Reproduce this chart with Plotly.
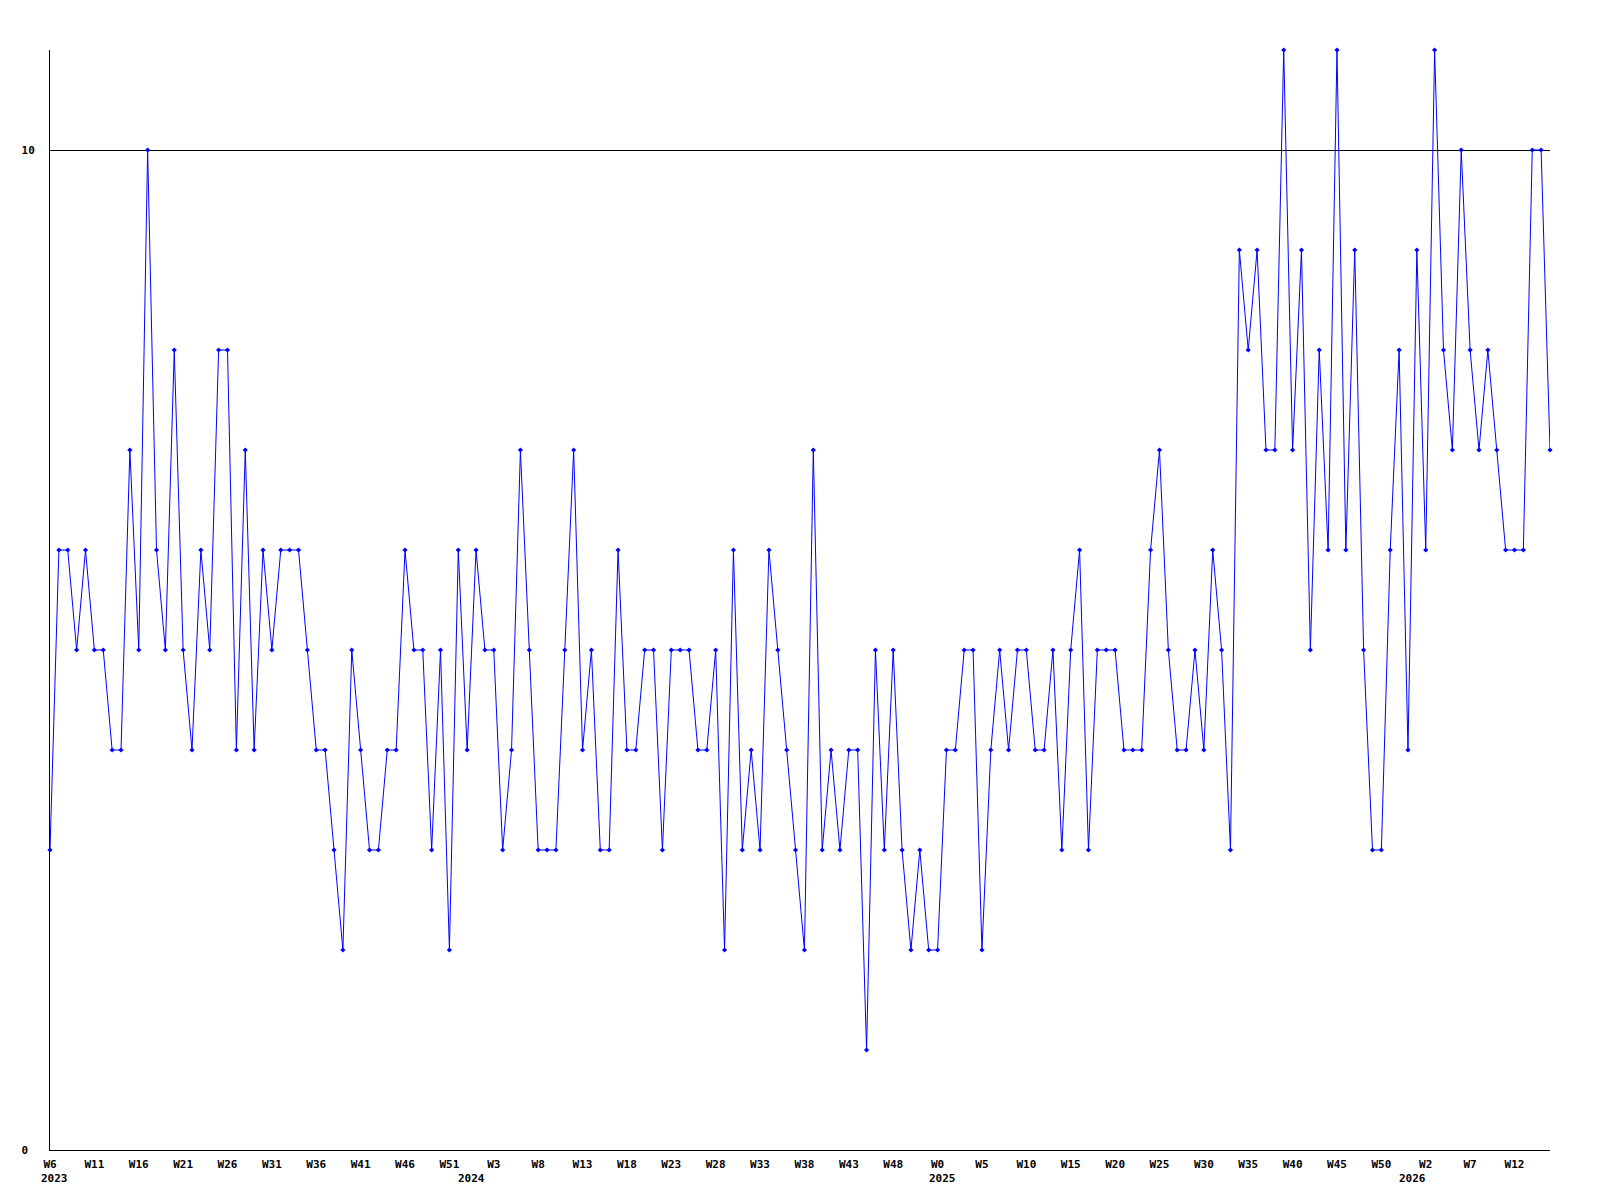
import plotly.graph_objects as go

# Weekly values, first point = W6 2023 (index 0)
values = [
    3, 6, 6, 5, 6, 5, 5, 4, 4, 7, 5, 10, 6, 5, 8, 5, 4, 6, 5, 8, 8, 4,
    7, 4, 6, 5, 6, 6, 6, 5, 4, 4, 3, 2, 5, 4, 3, 3, 4, 4, 6, 5, 5,
    3, 5, 2, 6, 4, 6, 5, 5, 3, 4, 7, 5, 3, 3, 3, 5, 7, 4, 5, 3, 3, 6,
    4, 4, 5, 5, 3, 5, 5, 5, 4, 4, 5, 2, 6, 3, 4, 3, 6, 5, 4, 3, 2,
    7, 3, 4, 3, 4, 4, 1, 5, 3, 5, 3, 2, 3, 2, 2, 4, 4, 5, 5, 2, 4, 5,
    4, 5, 5, 4, 4, 5, 3, 5, 6, 3, 5, 5, 5, 4, 4, 4, 6, 7, 5, 4, 4,
    5, 4, 6, 5, 3, 9, 8, 9, 7, 7, 11, 7, 9, 5, 8, 6, 11, 6, 9, 5, 3,
    3, 6, 8, 4, 9, 6, 11, 8, 7, 10, 8, 7, 8, 7, 6, 6, 6, 10, 10, 7,
]

week_labels = [
    "W6", "W11", "W16", "W21", "W26", "W31", "W36", "W41", "W46", "W51",
    "W3", "W8", "W13", "W18", "W23", "W28", "W33", "W38", "W43", "W48",
    "W0", "W5", "W10", "W15", "W20", "W25", "W30", "W35", "W40", "W45",
    "W50", "W2", "W7", "W12",
]
week_label_pos = [i * 5 for i in range(len(week_labels))]

years = ["2023", "2024", "2025", "2026"]
year_pos = [0, 47, 100, 153]

y_ticks = [0, 10]
y_tick_text = ["0\u00a0", "10"]

x_idx = list(range(len(values)))

FONT = "DejaVu Sans Mono"

fig = go.Figure()
fig.add_trace(go.Scatter(
    x=x_idx, y=values, mode="lines+markers",
    line=dict(color="#0000ff", width=1),
    marker=dict(symbol="diamond", size=4, color="#0000ff"),
    cliponaxis=False,
    hoverinfo="skip",
))

for yr, p in zip(years, year_pos):
    fig.add_annotation(
        x=p, y=0, xref="x", yref="paper", text=yr, showarrow=False,
        xanchor="left", yanchor="top", xshift=-11, yshift=-20,
        font=dict(family=FONT, size=11, color="black", weight="bold"),
    )

fig.update_layout(
    width=1600, height=1200,
    margin=dict(l=50, r=50, t=50, b=50, pad=0),
    paper_bgcolor="white", plot_bgcolor="white",
    showlegend=False,
    xaxis=dict(
        range=[0, len(values) - 1], tickmode="array",
        tickvals=week_label_pos, ticktext=week_labels,
        showgrid=False, zeroline=False, showline=True, linecolor="black",
        linewidth=1, ticks="", ticklabelstandoff=4,
        tickfont=dict(family=FONT, size=11, color="black", weight="bold"),
    ),
    yaxis=dict(
        range=[0, 11], tickmode="array", tickvals=y_ticks,
        ticktext=y_tick_text,
        showgrid=True, gridcolor="black", gridwidth=1,
        zeroline=False, showline=True, linecolor="black", linewidth=1,
        ticks="", ticklabelstandoff=12,
        tickfont=dict(family=FONT, size=11, color="black", weight="bold"),
    ),
)

fig.write_html("out.html", config={"displayModeBar": False},
               post_script="document.body.style.margin='0';")
